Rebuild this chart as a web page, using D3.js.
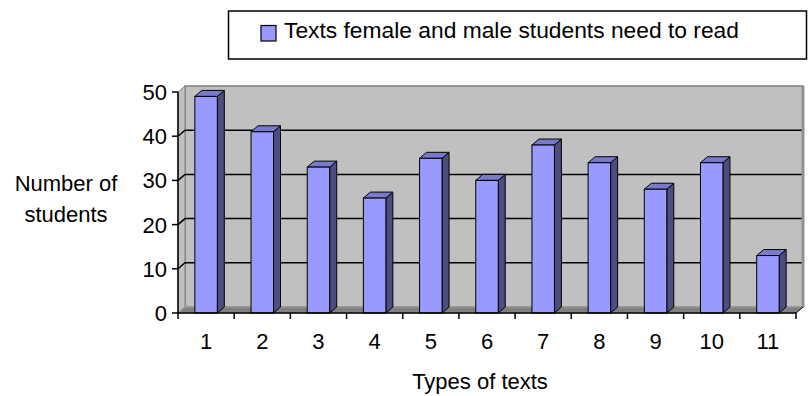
<!DOCTYPE html>
<html>
<head>
<meta charset="utf-8">
<script src="https://cdn.jsdelivr.net/npm/d3@7"></script>
<style>
  html, body { margin: 0; padding: 0; background: #fff; }
  svg { display: block; font-family: "Liberation Sans", Arial, sans-serif; }
</style>
</head>
<body>
<svg id="chart" width="809" height="396"></svg>
<script>
// Number of students per type of text
const categories = ["1", "2", "3", "4", "5", "6", "7", "8", "9", "10", "11"];
const values = [49, 41, 33, 26, 35, 30, 38, 34, 28, 34, 13];
const yTicks = [0, 10, 20, 30, 40, 50];
const seriesName = "Texts female and male students need to read";

const svg = d3.select("#chart");

const x = d3.scaleBand()
  .domain(categories)
  .range([178, 796])
  .paddingInner(0.6)
  .paddingOuter(0.3);

const y = d3.scaleLinear().domain([0, 50]).range([313, 92]);

// 3D depth offset of the back plane
const dx = 7, dy = -6;
const x0 = 178, x1 = 796;
const step = x.step();

const line = d3.line();

// back wall
svg.append("rect")
  .attr("x", x0 + dx).attr("y", y(50) + dy)
  .attr("width", x1 - x0).attr("height", y(0) - y(50))
  .attr("fill", "#c0c0c0").attr("stroke", "#808080").attr("stroke-width", 1.5);

// left side wall
svg.append("path")
  .attr("d", line([[x0, y(50)], [x0 + dx, y(50) + dy], [x0 + dx, y(0) + dy], [x0, y(0)]]) + "Z")
  .attr("fill", "#c0c0c0").attr("stroke", "#808080").attr("stroke-width", 1);

// floor
svg.append("path")
  .attr("d", line([[x0, y(0)], [x0 + dx, y(0) + dy], [x1 + dx, y(0) + dy], [x1, y(0)]]) + "Z")
  .attr("fill", "#808080").attr("stroke", "#a0a0a0").attr("stroke-width", 1);

// gridlines on back wall and side wall
const grid = svg.append("g");
yTicks.filter(t => t > 0 && t < 50).forEach(t => {
  grid.append("path")
    .attr("d", line([[x0, y(t)], [x0 + dx, y(t) + dy], [x1 + dx, y(t) + dy]]))
    .attr("fill", "none").attr("stroke", "#000").attr("stroke-width", 1.5);
});

// right edge of back wall
svg.append("line")
  .attr("x1", x1 + dx).attr("x2", x1 + dx)
  .attr("y1", y(50) + dy).attr("y2", y(0) + dy)
  .attr("stroke", "#909090").attr("stroke-width", 3);

// bars as 3D columns
const bars = svg.append("g").selectAll("g").data(categories).join("g");
const bw = x.bandwidth();

bars.append("path") // side face
  .attr("d", (d, i) => {
    const bx = x(d) + bw, top = y(values[i]), bot = y(0);
    return line([[bx, top], [bx + dx, top + dy], [bx + dx, bot + dy], [bx, bot]]) + "Z";
  })
  .attr("fill", "#4d4d80").attr("stroke", "#000").attr("stroke-width", 1).attr("stroke-linejoin", "round");

bars.append("path") // top face
  .attr("d", (d, i) => {
    const bx = x(d), top = y(values[i]);
    return line([[bx, top], [bx + dx, top + dy], [bx + bw + dx, top + dy], [bx + bw, top]]) + "Z";
  })
  .attr("fill", "#7a7acc").attr("stroke", "#000").attr("stroke-width", 1).attr("stroke-linejoin", "round");

bars.append("rect") // front face
  .attr("x", d => x(d))
  .attr("y", (d, i) => y(values[i]))
  .attr("width", bw)
  .attr("height", (d, i) => y(0) - y(values[i]))
  .attr("fill", "#9999ff").attr("stroke", "#000").attr("stroke-width", 1);

// y axis
svg.append("line")
  .attr("x1", x0).attr("x2", x0).attr("y1", y(0)).attr("y2", y(50))
  .attr("stroke", "#000").attr("stroke-width", 1.5);
const yAx = svg.append("g").selectAll("g").data(yTicks).join("g");
yAx.append("line")
  .attr("x1", x0 - 6).attr("x2", x0).attr("y1", d => y(d)).attr("y2", d => y(d))
  .attr("stroke", "#000").attr("stroke-width", 1.5);
yAx.append("text")
  .attr("x", x0 - 11).attr("y", d => y(d) + 8)
  .attr("text-anchor", "end").attr("font-size", 22).attr("fill", "#000")
  .text(d => d);

// x axis
svg.append("line")
  .attr("x1", x0).attr("x2", x1).attr("y1", y(0)).attr("y2", y(0))
  .attr("stroke", "#000").attr("stroke-width", 1.5);
svg.append("line")
  .attr("x1", x1).attr("x2", x1 + dx).attr("y1", y(0)).attr("y2", y(0) + dy)
  .attr("stroke", "#000").attr("stroke-width", 1);
const boundaries = categories.map(d => x(d) - step * 0.3).concat([x1]);
svg.append("g").selectAll("line").data(boundaries).join("line")
  .attr("x1", d => d).attr("x2", d => d).attr("y1", y(0)).attr("y2", y(0) + 6)
  .attr("stroke", "#000").attr("stroke-width", 1.5);
svg.append("g").selectAll("text").data(categories).join("text")
  .attr("x", d => x(d) + bw / 2)
  .attr("y", 349)
  .attr("text-anchor", "middle").attr("font-size", 22).attr("fill", "#000")
  .text(d => d);

// axis titles
svg.append("text")
  .attr("x", 66).attr("y", 191)
  .attr("text-anchor", "middle").attr("font-size", 22)
  .text("Number of");
svg.append("text")
  .attr("x", 66).attr("y", 222)
  .attr("text-anchor", "middle").attr("font-size", 22)
  .text("students");
svg.append("text")
  .attr("x", 480).attr("y", 389)
  .attr("text-anchor", "middle").attr("font-size", 22)
  .text("Types of texts");

// legend
const lg = svg.append("g");
lg.append("rect")
  .attr("x", 228.5).attr("y", 11).attr("width", 578).attr("height", 48)
  .attr("fill", "#fff").attr("stroke", "#000").attr("stroke-width", 1.5);
lg.append("rect")
  .attr("x", 261).attr("y", 25.5).attr("width", 15).attr("height", 15.5)
  .attr("fill", "#9999ff").attr("stroke", "#000").attr("stroke-width", 1.2);
lg.append("text")
  .attr("x", 284).attr("y", 38)
  .attr("font-size", 22.8)
  .text(seriesName);
</script>
</body>
</html>
